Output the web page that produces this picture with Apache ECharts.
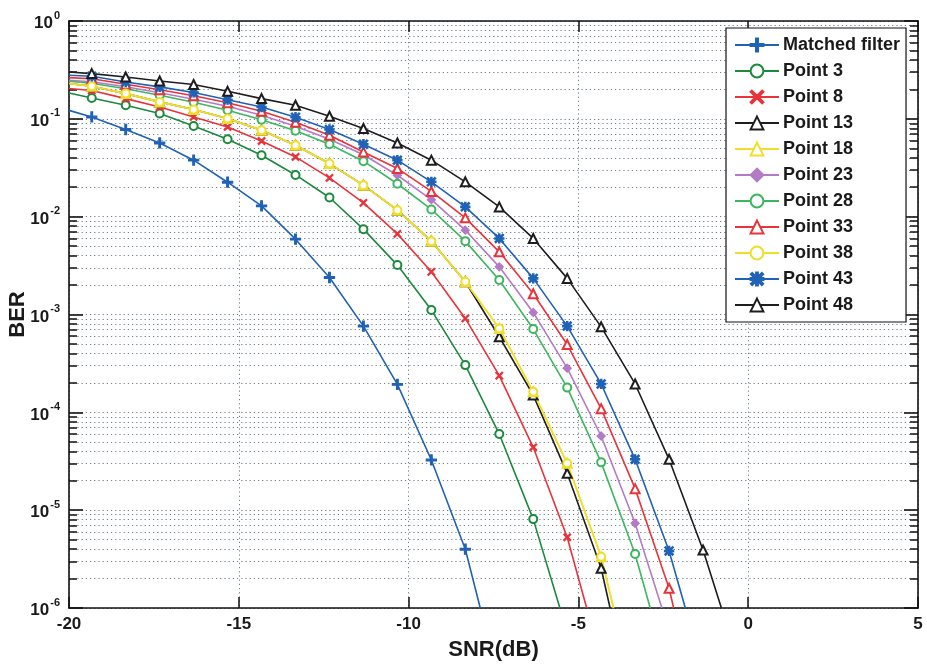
<!DOCTYPE html>
<html>
<head>
<meta charset="utf-8">
<script src="https://cdn.jsdelivr.net/npm/echarts@6/dist/echarts.min.js"></script>
<style>
html,body{margin:0;padding:0;background:#fff;}
#chart{width:927px;height:669px;}
</style>
</head>
<body>
<div id="chart"></div>
<script>
// ---- Data ----
// SNR (dB) positions of the plotted markers
var snrMarkers = [-19.33,-18.33,-17.33,-16.33,-15.33,-14.33,-13.33,-12.33,-11.33,-10.33,-9.33,-8.33,-7.33,-6.33,-5.33,-4.33,-3.33,-2.33,-1.33,-0.33];
var seriesNames = ['Matched filter','Point 3','Point 8','Point 13','Point 18','Point 23','Point 28','Point 33','Point 38','Point 43','Point 48'];
// BER at the left edge (SNR = -20 dB)
var berAtStart = [0.122, 0.184, 0.204, 0.2295, 0.2295, 0.248, 0.242, 0.264, 0.2295, 0.279, 0.301];
// SNR where each curve reaches BER = 1e-6 (bottom of the plot)
var snrAtFloor = [-7.89, -5.545, -4.756, -4.068, -3.967, -2.541, -2.886, -2.195, -3.967, -1.852, -0.789];
// BER values at the markers
var berMF   = [0.1045,0.0778,0.0567,0.0378,0.0225,0.0129,5.89e-3,2.39e-3,7.6e-4,1.93e-4,3.26e-5,3.99e-6];
var berP3   = [0.163,0.1377,0.1133,0.0846,0.0619,0.0425,0.0267,0.0157,7.45e-3,3.2e-3,1.11e-3,3.04e-4,6.0e-5,8.1e-6];
var berP8   = [0.1945,0.161,0.1324,0.1046,0.0826,0.0594,0.0408,0.0249,0.01384,6.67e-3,2.73e-3,9.12e-4,2.37e-4,4.39e-5,5.28e-6];
var berP13  = [0.215,0.181,0.149,0.1245,0.1007,0.0765,0.0538,0.0349,0.0210,0.01165,5.62e-3,2.16e-3,5.92e-4,1.50e-4,2.38e-5,2.55e-6];
var berP18  = [0.215,0.181,0.149,0.1245,0.1007,0.0765,0.0538,0.0349,0.0210,0.01165,5.62e-3,2.16e-3,7.21e-4,1.62e-4,3.01e-5,3.35e-6];
var berP23  = [0.239,0.213,0.185,0.1585,0.1345,0.1088,0.0840,0.0619,0.0430,0.0265,0.01492,7.28e-3,3.07e-3,1.05e-3,2.83e-4,5.73e-5,7.35e-6];
var berP28  = [0.231,0.203,0.174,0.148,0.1225,0.0979,0.0756,0.0550,0.0369,0.0217,0.01185,5.62e-3,2.25e-3,7.1e-4,1.79e-4,3.08e-5,3.57e-6];
var berP33  = [0.257,0.226,0.198,0.172,0.146,0.1196,0.0923,0.0680,0.0459,0.0311,0.0181,9.72e-3,4.37e-3,1.63e-3,4.93e-4,1.09e-4,1.66e-5,1.59e-6];
var berP38  = [0.215,0.181,0.149,0.1245,0.1007,0.0765,0.0538,0.0349,0.0210,0.01165,5.62e-3,2.16e-3,7.21e-4,1.62e-4,3.01e-5,3.35e-6];
var berP43  = [0.272,0.238,0.212,0.186,0.157,0.132,0.1038,0.0778,0.0550,0.0378,0.0227,0.0126,5.99e-3,2.34e-3,7.61e-4,1.95e-4,3.31e-5,3.83e-6];
var berP48  = [0.290,0.268,0.244,0.224,0.191,0.161,0.1376,0.1063,0.0796,0.0567,0.0378,0.0227,0.01259,5.99e-3,2.34e-3,7.48e-4,1.95e-4,3.31e-5,3.92e-6];
var xTicks = [-20,-15,-10,-5,0,5];
var yMajor = [1e-6,1e-5,1e-4,1e-3,1e-2,1e-1,1];
var yMinor = [];
for (var d = -6; d < 0; d++) { for (var m = 2; m <= 9; m++) { yMinor.push(+(m * Math.pow(10, d)).toPrecision(3)); } }

var allBer = [berMF,berP3,berP8,berP13,berP18,berP23,berP28,berP33,berP38,berP43,berP48];

// ---- Styles ----
var colors = ['#1f62b6','#1b8a3c','#e8333a','#1e1e1e','#f0df2a','#b57ac6','#3db65f','#e8333a','#f0df2a','#1f62b6','#1e1e1e'];
var plusPath = 'path://M4.2,0H5.8V10H4.2Z M0,4.2H10V5.8H0Z';
var xPath = 'path://M1,0L5,3.9L9,0L10,1L6.1,5L10,9L9,10L5,6.1L1,10L0,9L3.9,5L0,1Z';
var starPath = 'path://M4.3,0H5.7V10H4.3Z M0,4.3H10V5.7H0Z M1.2,0.2L5,4L8.8,0.2L9.8,1.2L6,5L9.8,8.8L8.8,9.8L5,6L1.2,9.8L0.2,8.8L4,5L0.2,1.2Z';
var symbols = [plusPath,'emptyCircle',xPath,'emptyTriangle','emptyTriangle','diamond','emptyCircle','emptyTriangle','emptyCircle',starPath,'emptyTriangle'];
var symSizes = [10,8,7,9,9,8,8,9,8,9,9];
var font = '"Liberation Sans", Arial, sans-serif';
var gridDash = {color:'#6f7d92', width:1, type:[1.2,3]};

var series = seriesNames.map(function (name, i) {
  var data = [{value:[-20, berAtStart[i]], symbol:'none'}];
  allBer[i].forEach(function (v, k) { data.push([snrMarkers[k], v]); });
  data.push({value:[snrAtFloor[i], 1e-6], symbol:'none'});
  return {
    name: name, type: 'line', data: data,
    xAxisIndex: 0, yAxisIndex: 0,
    symbol: symbols[i], symbolSize: symSizes[i], showSymbol: true,
    color: colors[i],
    lineStyle: {width: 1.6, color: colors[i]},
    itemStyle: {color: colors[i], borderColor: colors[i], borderWidth: 1.3},
    emphasis: {disabled: true}, animation: false, clip: true
  };
});

function supLabel(v) {
  var e = Math.round(Math.log10(v));
  return '{b|10}{s|' + e + '}';
}

var yBase = {type:'log', logBase:10, min:1e-6, max:1, gridIndex:0};
var option = {
  backgroundColor: '#fff',
  animation: false,
  grid: {left:69, right:9, top:21, bottom:61, containLabel:false, outerBoundsMode:'none'},
  legend: {
    left: 726, top: 28, orient: 'vertical',
    backgroundColor: '#fff', borderColor: '#111', borderWidth: 1.2,
    padding: [8, 6, 8, 8], itemWidth: 44, itemHeight: 16, itemGap: 8,
    textStyle: {fontFamily: font, fontWeight: 'bold', fontSize: 18, lineHeight: 18, color: '#1a1a1a', padding:[0,0,0,-1]},
    data: seriesNames
  },
  xAxis: [
    {type:'value', min:-20, max:5, interval:5, position:'bottom',
     axisLine:{show:true, onZero:false, lineStyle:{color:'#111', width:1.6}},
     axisTick:{show:true, inside:true, length:11, lineStyle:{color:'#111', width:1.5}},
     axisLabel:{show:true, margin:8, fontFamily:font, fontWeight:'bold', fontSize:17, color:'#1a1a1a'},
     splitLine:{show:true, lineStyle:gridDash},
     name:'SNR(dB)', nameLocation:'middle', nameGap:31, nameMoveOverlap:false,
     nameTextStyle:{fontFamily:font, fontWeight:'bold', fontSize:22, color:'#1a1a1a'}},
    {type:'value', min:-20, max:5, interval:5, position:'top',
     axisLine:{show:true, onZero:false, lineStyle:{color:'#111', width:1.6}},
     axisTick:{show:true, inside:true, length:11, lineStyle:{color:'#111', width:1.5}},
     axisLabel:{show:false}, splitLine:{show:false}}
  ],
  yAxis: [
    Object.assign({}, yBase, {position:'left',
      axisLine:{show:true, onZero:false, lineStyle:{color:'#111', width:1.6}},
      axisTick:{show:true, inside:true, length:14, lineStyle:{color:'#111', width:1.6}, customValues: yMajor},
      axisLabel:{show:true, margin:9, customValues: yMajor, formatter: supLabel,
        rich:{b:{fontFamily:font, fontWeight:'bold', fontSize:17, color:'#1a1a1a', lineHeight:22, verticalAlign:'bottom'},
              s:{fontFamily:font, fontWeight:'bold', fontSize:11, color:'#1a1a1a', lineHeight:22, verticalAlign:'top', padding:[0,0,0,1]}}},
      splitLine:{show:true, lineStyle:gridDash},
      name:'BER', nameLocation:'middle', nameGap:40, nameRotate:90, nameMoveOverlap:false,
      nameTextStyle:{fontFamily:font, fontWeight:'bold', fontSize:22, color:'#1a1a1a'}}),
    Object.assign({}, yBase, {position:'left',
      axisLine:{show:false, onZero:false},
      axisTick:{show:true, inside:true, length:8, lineStyle:{color:'#111', width:1.5}, customValues: yMinor},
      axisLabel:{show:false},
      splitLine:{show:true, lineStyle:gridDash}}),
    Object.assign({}, yBase, {position:'right',
      axisLine:{show:true, onZero:false, lineStyle:{color:'#111', width:1.6}},
      axisTick:{show:true, inside:true, length:14, lineStyle:{color:'#111', width:1.6}, customValues: yMajor},
      axisLabel:{show:false}, splitLine:{show:false}}),
    Object.assign({}, yBase, {position:'right',
      axisLine:{show:false, onZero:false},
      axisTick:{show:true, inside:true, length:8, lineStyle:{color:'#111', width:1.5}, customValues: yMinor},
      axisLabel:{show:false}, splitLine:{show:false}})
  ],
  series: series
};

var chart = echarts.init(document.getElementById('chart'), null, {renderer:'canvas'});
chart.setOption(option);
</script>
</body>
</html>
